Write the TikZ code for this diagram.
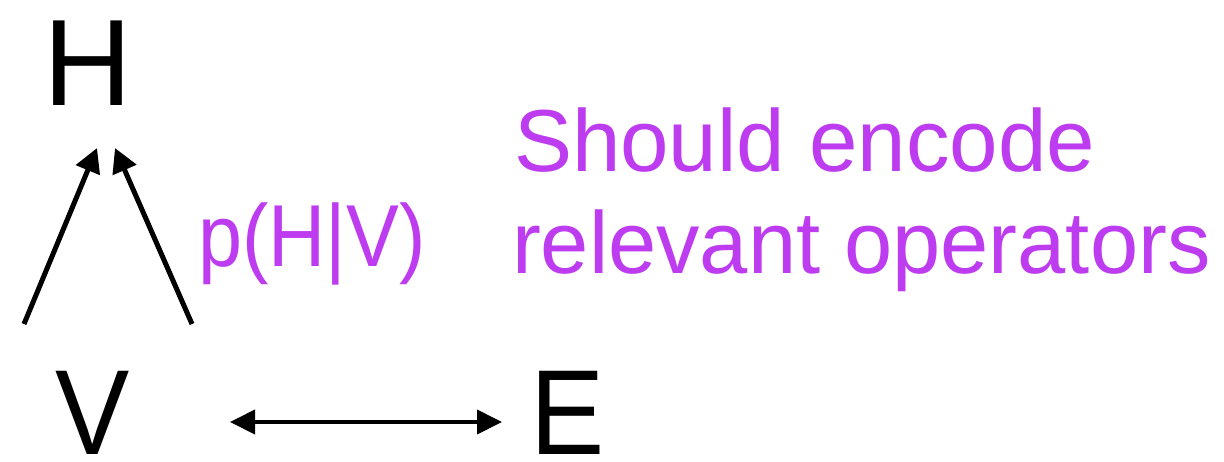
\documentclass[tikz,border=0pt]{standalone}
\usepackage{fontspec}
\setmainfont{Liberation Sans}
\usetikzlibrary{arrows.meta}
\definecolor{purp}{RGB}{190,60,240}
\tikzset{
  lbl/.style={inner sep=0pt, outer sep=0pt, text=black},
  plbl/.style={inner sep=0pt, outer sep=0pt, text=purp},
  darrow/.style={line width=5pt, -{Triangle[length=24pt,width=25pt]}},
  harrow/.style={line width=4pt, {Triangle[length=25pt,width=24pt]}-{Triangle[length=25pt,width=24pt]}}
}
\begin{document}
\begin{tikzpicture}[x=1pt,y=-1pt]
\useasboundingbox (0,0) rectangle (1224,461);
\node[lbl, anchor=base] (H) at (88,105) {\fontsize{123}{123}\selectfont H};
\node[lbl, anchor=base] (V) at (93,454) {\scalebox{0.92}[1]{\fontsize{121}{121}\selectfont V}};
\node[lbl, anchor=base west] (E) at (530,454) {\scalebox{0.92}[1]{\fontsize{121}{121}\selectfont E}};
\node[plbl, anchor=base west] (p) at (198,266) {\scalebox{0.9}[1]{\fontsize{88}{88}\selectfont p(H|V)}};
\node[plbl, anchor=base west] (s1) at (514,171) {\scalebox{0.99}[1]{\fontsize{88}{88}\selectfont Should encode}};
\node[plbl, anchor=base west] (s2) at (512,273) {\scalebox{0.985}[1]{\fontsize{88}{88}\selectfont relevant operators}};
\coordinate (l0) at (24,324);
\coordinate (l1) at (97,148);
\coordinate (r0) at (192,324);
\coordinate (r1) at (115,148);
\coordinate (h0) at (230,422);
\coordinate (h1) at (502,422);
\draw[darrow] (l0) -- (l1);
\draw[darrow] (r0) -- (r1);
\draw[harrow] (h0) -- (h1);
\end{tikzpicture}
\end{document}
